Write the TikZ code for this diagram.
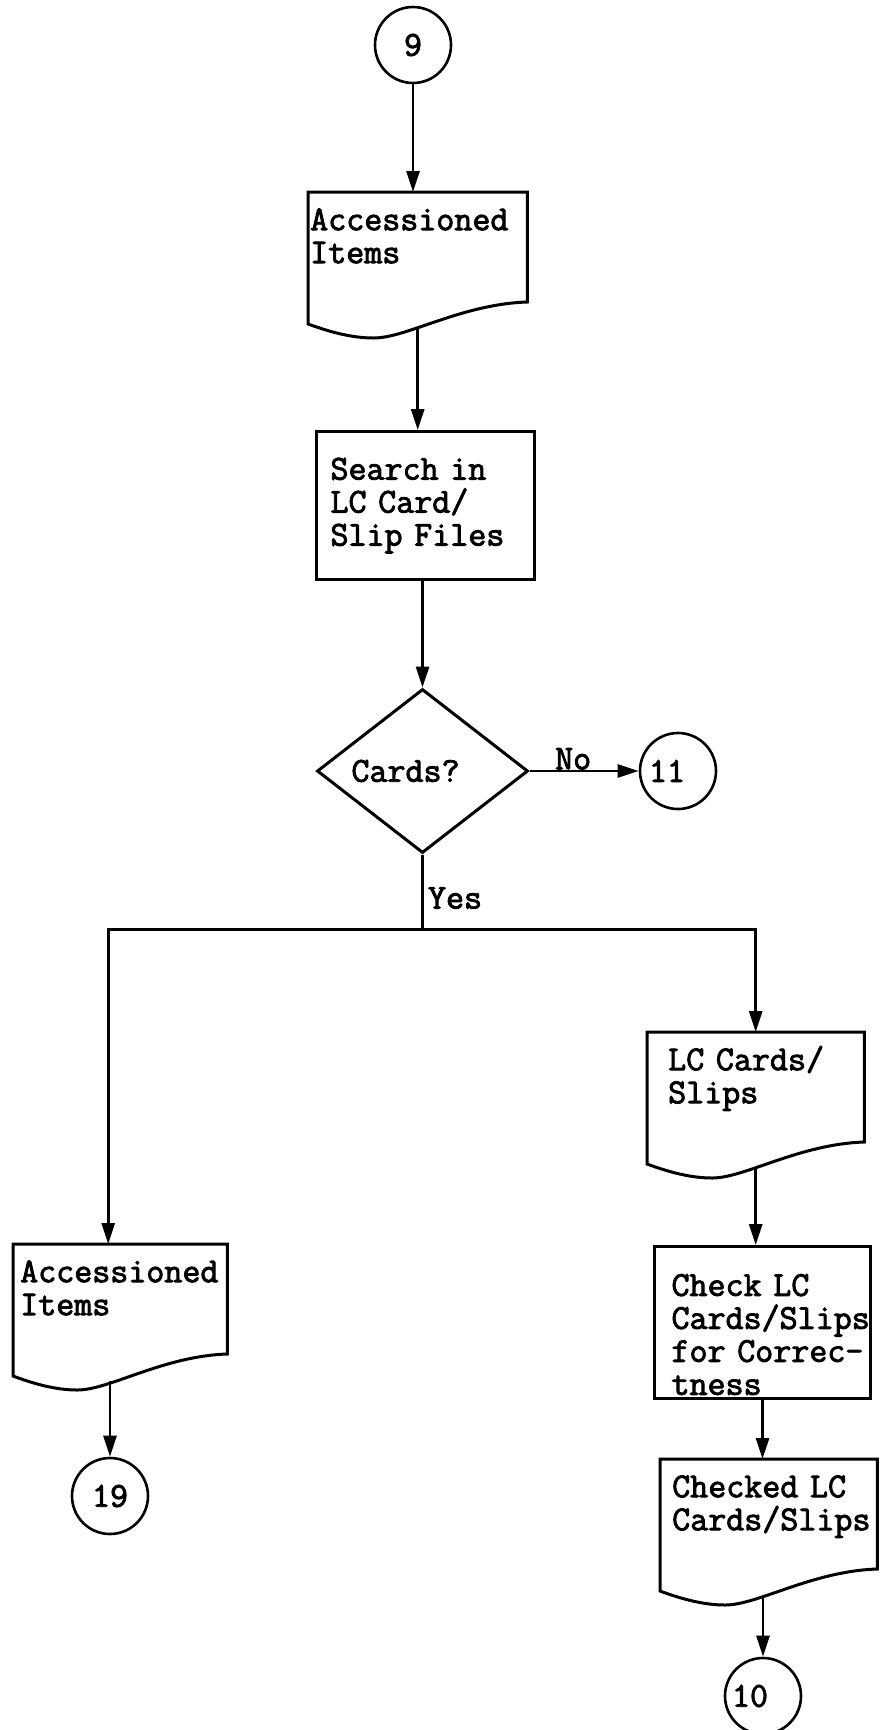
\documentclass[tikz,border=0pt]{standalone}
\usepackage{fontspec}
\newfontfamily\flowfont[FakeBold=2.5]{Latin Modern Mono}
\usetikzlibrary{arrows.meta,calc,shapes.geometric}

\newcommand{\docoutline}[1]{%
  \draw[outline] (#1.north west) -- ($(#1.north west)+(0,132)$)
    .. controls ($(#1.north west)!0.1!(#1.north east)+(0,140)$) and ($(#1.north west)!0.2!(#1.north east)+(0,146)$)
    .. ($(#1.north west)!0.3!(#1.north east)+(0,146)$)
    .. controls ($(#1.north west)!0.45!(#1.north east)+(0,146)$) and ($(#1.north west)!0.7!(#1.north east)+(0,112)$)
    .. ($(#1.north east)+(0,110)$) -- (#1.north east) -- cycle;
  \coordinate (#1-out) at ($(#1.north)+(0,137)$);}

\begin{document}
\begin{tikzpicture}[x=1pt,y=-1pt,
  txt/.style={font=\flowfont\fontsize{35}{33}\selectfont},
  outline/.style={line width=3pt},
  flow/.style={line width=2.8pt,-{Triangle[length=21pt,width=13pt]}},
  connector/.style={txt,circle,draw,line width=2.6pt,minimum size=76pt,inner sep=0pt},
  process/.style={txt,rectangle,draw,line width=3pt,anchor=north west,align=left,text height=22pt,minimum height=148pt},
  docbox/.style={txt,rectangle,anchor=north west,align=left,text height=22pt,inner ysep=16pt},
  decision/.style={txt,diamond,draw,line width=3pt,shape aspect=1.3,minimum width=211pt,minimum height=164pt,inner sep=0pt},
  note/.style={txt,inner sep=0pt}]
\useasboundingbox (0,0) rectangle (880,1730);
\node[connector] (c9) at (413,45) {9};
\node[docbox,inner xsep=2pt,text width=215pt] (acc1) at (308,192) {Accessioned\\Items};
\docoutline{acc1}
\node[process,inner xsep=14pt,text width=190pt] (search) at (315,430) {Search in\\LC Card/\\Slip Files};
\node[decision] (dec) at (422.5,771) {Cards?\kern34pt};
\node[connector] (c11) at (678,771) {11\kern22pt};
\node[docbox,inner xsep=7pt,text width=200pt] (acc2) at (13,1244) {Accessioned\\Items};
\docoutline{acc2}
\node[connector] (c19) at (110,1496) {19};
\node[docbox,inner xsep=21pt,text width=175pt] (lcc) at (647,1032) {LC Cards/\\Slips};
\docoutline{lcc}
\node[process,inner xsep=17pt,text width=182pt,text height=46pt] (check) at (653,1245) {Check LC\\\mbox{Cards/Slips}\\\mbox{for Correc-}\\tness};
\node[docbox,inner xsep=12pt,text width=193pt] (chkd) at (660,1459) {Checked~LC\\\mbox{Cards/Slips}};
\docoutline{chkd}
\node[connector] (c10) at (763,1696) {10\kern26pt};
\draw[flow] (c9) -- (c9 |- acc1.north);
\draw[flow] (acc1-out) -- (acc1-out |- search.north);
\draw[flow] (search.south -| dec.north) -- (dec.north);
\draw[flow] (dec.east) -- node[note,pos=0.4,anchor=south]{No} (c11);
\draw[outline] (dec.south) -- node[note,pos=0.58,anchor=west,xshift=4pt]{Yes} ++(0,75) coordinate (split);
\draw[flow] (split) -| ([xshift=-12pt]acc2.north);
\draw[flow] (split) -| (lcc.north);
\draw[flow] (lcc-out) -- (lcc-out |- check.north);
\draw[flow] (check.south) -- (check.south |- chkd.north);
\draw[flow] (c19 |- acc2-out) -- (c19);
\draw[flow] (c10 |- chkd-out) -- (c10);
\end{tikzpicture}
\end{document}
